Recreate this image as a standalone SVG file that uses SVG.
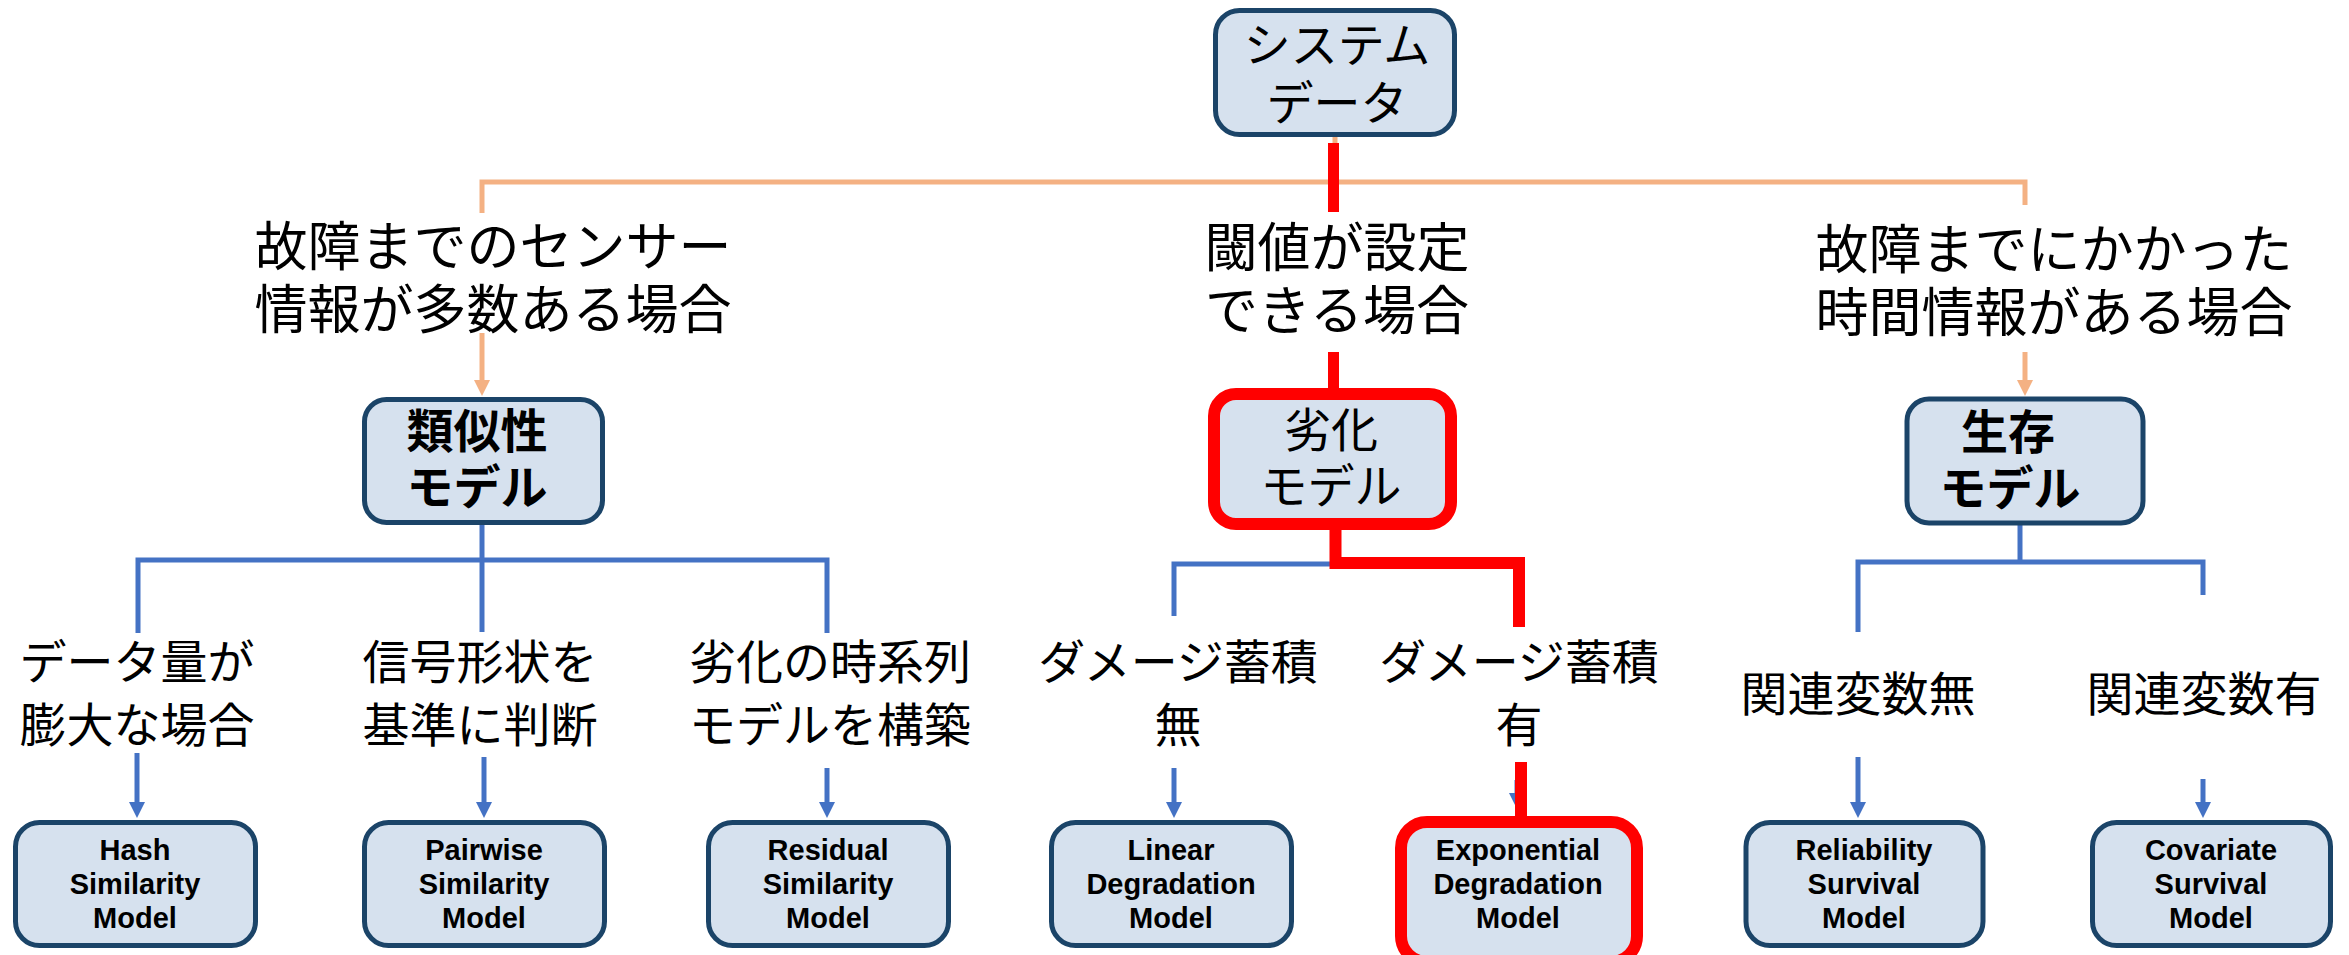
<svg xmlns="http://www.w3.org/2000/svg" width="2349" height="955" viewBox="0 0 2349 955">
<defs>
<style>
.box{fill:#D6E1EE;stroke:#1B4468;stroke-width:5}
.hlbox{fill:#D6E1EE;stroke:#FF0000;stroke-width:12}
.jp{font-family:"Noto Sans CJK JP","Noto Sans",sans-serif;fill:#000;text-anchor:middle}
.up{font-size:53px}
.lo{font-size:47px}
.nd{font-size:47px}
.b{font-weight:bold}
.en{font-family:"Liberation Sans",Arial,sans-serif;font-weight:bold;font-size:29px;fill:#000;text-anchor:middle}
.blue{stroke:#4472C4;stroke-width:5;fill:none}
.orange{stroke:#F4B183;stroke-width:5;fill:none}
.red{stroke:#FF0000;stroke-width:11;fill:none;stroke-linejoin:miter}
</style>
<marker id="ab" markerUnits="userSpaceOnUse" viewBox="0 0 16 16" refX="4" refY="8" markerWidth="16" markerHeight="16" orient="auto"><path d="M0,0 L16,8 L0,16 z" fill="#4472C4"/></marker>
<marker id="ao" markerUnits="userSpaceOnUse" viewBox="0 0 16 16" refX="4" refY="8" markerWidth="16" markerHeight="16" orient="auto"><path d="M0,0 L16,8 L0,16 z" fill="#F4B183"/></marker>
</defs>
<rect width="2349" height="955" fill="#FFFFFF"/>

<g id="connectors">
<path class="orange" d="M482,213 V182 H2025 V205"/>
<path class="orange" d="M1335,135 V182"/>
<path class="orange" d="M482,333 V384" marker-end="url(#ao)"/>
<path class="orange" d="M2025,352 V384" marker-end="url(#ao)"/>

<path class="blue" d="M482,525 V632"/>
<path class="blue" d="M138,633 V560 H827 V633"/>
<path class="blue" d="M137,753 V806" marker-end="url(#ab)"/>
<path class="blue" d="M484,757 V806" marker-end="url(#ab)"/>
<path class="blue" d="M827,768 V806" marker-end="url(#ab)"/>

<path class="blue" d="M1174,616 V564 H1335"/>
<path class="blue" d="M1174,768 V806" marker-end="url(#ab)"/>
<path class="blue" d="M1517,780 V797" marker-end="url(#ab)"/>

<path class="blue" d="M2020,524 V562"/>
<path class="blue" d="M1858,632 V562 H2203 V595"/>
<path class="blue" d="M1858,757 V806" marker-end="url(#ab)"/>
<path class="blue" d="M2203,779 V806" marker-end="url(#ab)"/>

<path class="red" d="M1333.5,143 V212"/>
<path class="red" d="M1333.5,352 V392"/>
<path class="red" d="M1335.5,528 V563 H1519 V627" style="stroke-width:12"/>
<path class="red" d="M1521,762 V818" style="stroke-width:12"/>
</g>

<g id="n-system">
<rect class="box" x="1215.5" y="10.5" width="239" height="124" rx="24"/>
<text class="jp nd"><tspan x="1337" y="62">システム</tspan><tspan x="1337" y="120">データ</tspan></text>
</g>

<g id="l-sensor">
<text class="jp up"><tspan x="493" y="266">故障までのセンサー</tspan><tspan x="493" y="329">情報が多数ある場合</tspan></text>
</g>
<g id="l-threshold">
<text class="jp up"><tspan x="1337" y="267">閾値が設定</tspan><tspan x="1337" y="330">できる場合</tspan></text>
</g>
<g id="l-time">
<text class="jp up"><tspan x="2054" y="269">故障までにかかった</tspan><tspan x="2054" y="332">時間情報がある場合</tspan></text>
</g>

<g id="n-similarity">
<rect class="box" x="364.5" y="399.5" width="238" height="123" rx="22"/>
<text class="jp nd b"><tspan x="477" y="448">類似性</tspan><tspan x="477" y="504">モデル</tspan></text>
</g>
<g id="n-degradation">
<rect class="hlbox" x="1214" y="394" width="237" height="130" rx="22"/>
<text class="jp nd"><tspan x="1331" y="447">劣化</tspan><tspan x="1331" y="503">モデル</tspan></text>
</g>
<g id="n-survival">
<rect class="box" x="1907" y="399" width="236" height="124" rx="22"/>
<text class="jp nd b"><tspan x="2008" y="449">生存</tspan><tspan x="2010" y="505">モデル</tspan></text>
</g>

<g id="l-hash">
<text class="jp lo"><tspan x="137" y="679">データ量が</tspan><tspan x="137" y="742">膨大な場合</tspan></text>
</g>
<g id="l-pairwise">
<text class="jp lo"><tspan x="480" y="679">信号形状を</tspan><tspan x="480" y="742">基準に判断</tspan></text>
</g>
<g id="l-residual">
<text class="jp lo"><tspan x="830" y="679">劣化の時系列</tspan><tspan x="830" y="742">モデルを構築</tspan></text>
</g>
<g id="l-linear">
<text class="jp lo"><tspan x="1178" y="679">ダメージ蓄積</tspan><tspan x="1178" y="742">無</tspan></text>
</g>
<g id="l-exp">
<text class="jp lo"><tspan x="1519" y="679">ダメージ蓄積</tspan><tspan x="1519" y="742">有</tspan></text>
</g>
<g id="l-reliability">
<text class="jp lo" x="1858" y="711">関連変数無</text>
</g>
<g id="l-covariate">
<text class="jp lo" x="2204" y="711">関連変数有</text>
</g>

<g id="n-hash">
<rect class="box" x="15.5" y="822.5" width="240" height="123" rx="24"/>
<text class="en"><tspan x="135" y="860">Hash</tspan><tspan x="135" y="894">Similarity</tspan><tspan x="135" y="928">Model</tspan></text>
</g>
<g id="n-pairwise">
<rect class="box" x="364.5" y="822.5" width="240" height="123" rx="24"/>
<text class="en"><tspan x="484" y="860">Pairwise</tspan><tspan x="484" y="894">Similarity</tspan><tspan x="484" y="928">Model</tspan></text>
</g>
<g id="n-residual">
<rect class="box" x="708.5" y="822.5" width="240" height="123" rx="24"/>
<text class="en"><tspan x="828" y="860">Residual</tspan><tspan x="828" y="894">Similarity</tspan><tspan x="828" y="928">Model</tspan></text>
</g>
<g id="n-linear">
<rect class="box" x="1051.5" y="822.5" width="240" height="123" rx="24"/>
<text class="en"><tspan x="1171" y="860">Linear</tspan><tspan x="1171" y="894">Degradation</tspan><tspan x="1171" y="928">Model</tspan></text>
</g>
<g id="n-exponential">
<rect class="hlbox" x="1401" y="822" width="236" height="140" rx="26"/>
<text class="en"><tspan x="1518" y="860">Exponential</tspan><tspan x="1518" y="894">Degradation</tspan><tspan x="1518" y="928">Model</tspan></text>
</g>
<g id="n-reliability">
<rect class="box" x="1746" y="822.5" width="237" height="123" rx="24"/>
<text class="en"><tspan x="1864" y="860">Reliability</tspan><tspan x="1864" y="894">Survival</tspan><tspan x="1864" y="928">Model</tspan></text>
</g>
<g id="n-covariate">
<rect class="box" x="2092.5" y="822.5" width="238" height="123" rx="24"/>
<text class="en"><tspan x="2211" y="860">Covariate</tspan><tspan x="2211" y="894">Survival</tspan><tspan x="2211" y="928">Model</tspan></text>
</g>
</svg>
